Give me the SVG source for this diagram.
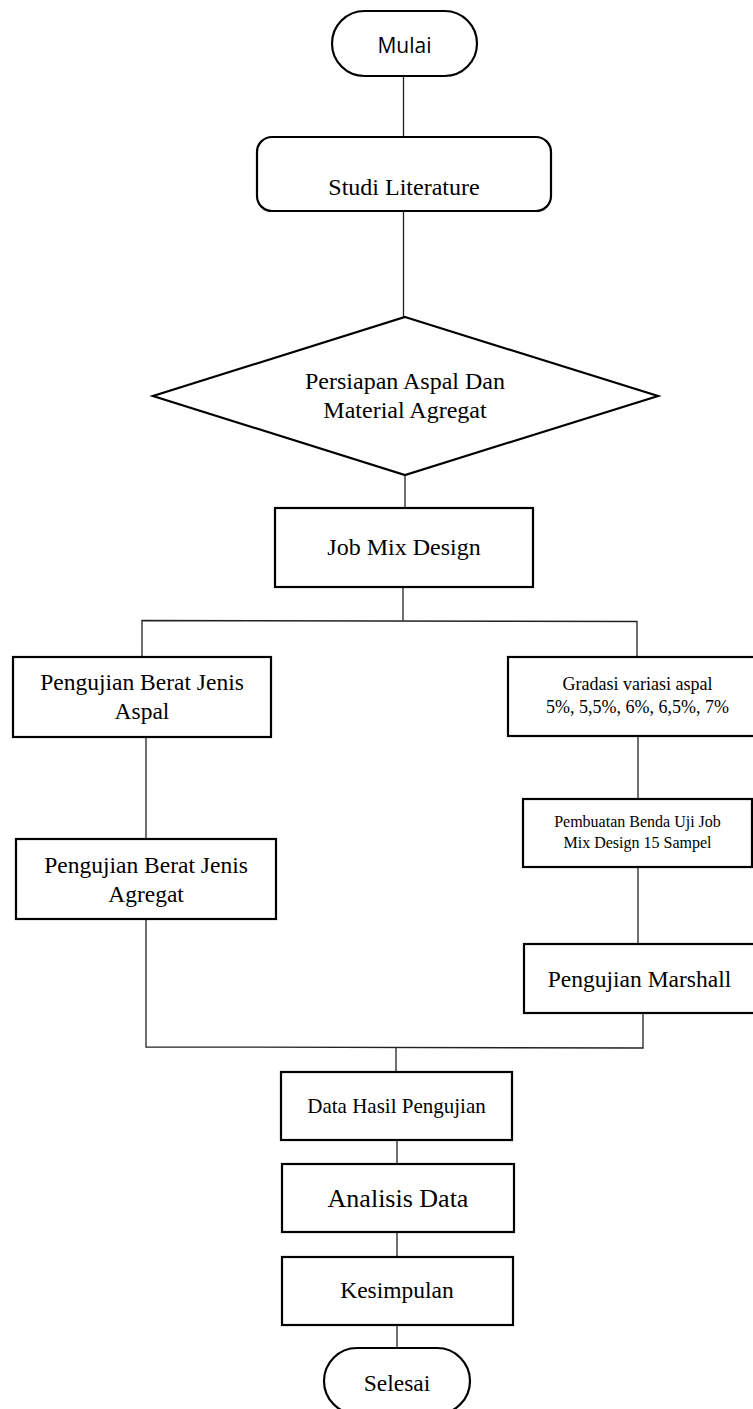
<svg xmlns="http://www.w3.org/2000/svg" width="753" height="1409" viewBox="0 0 753 1409">
<style>
.box{fill:#fff;stroke:#000;stroke-width:2.2}
.conn{fill:none;stroke:#222;stroke-width:1.3}
.t{font-family:"Liberation Serif","Times New Roman",serif;fill:#000;text-anchor:middle}
.s{font-family:"Open Sans","Liberation Sans",sans-serif;fill:#000;text-anchor:middle}
</style>
<rect width="753" height="1409" fill="#fff"/>
<g id="connectors">
<line class="conn" x1="403.5" y1="76" x2="403.5" y2="137"/>
<line class="conn" x1="403.5" y1="211" x2="403.5" y2="317"/>
<line class="conn" x1="405" y1="475" x2="405" y2="508"/>
<line class="conn" x1="403" y1="587" x2="403" y2="620.5"/>
<polyline class="conn" points="142,657 142,620.5 637,621.5 637,657"/>
<line class="conn" x1="146" y1="737" x2="146" y2="839"/>
<line class="conn" x1="638" y1="736" x2="638" y2="799"/>
<line class="conn" x1="638" y1="867" x2="638" y2="944"/>
<polyline class="conn" points="146,919 146,1047 643,1048 643,1013"/>
<line class="conn" x1="396" y1="1047.5" x2="396" y2="1072"/>
<line class="conn" x1="397" y1="1140" x2="397" y2="1164"/>
<line class="conn" x1="397" y1="1232" x2="397" y2="1257"/>
<line class="conn" x1="397" y1="1325" x2="397" y2="1348"/>
</g>
<g id="mulai">
<rect class="box" x="332" y="11" width="145" height="65" rx="32.5" ry="32.5"/>
<text class="s" x="404.5" y="53" font-size="21">Mulai</text>
</g>
<g id="studi">
<rect class="box" x="257" y="137" width="294" height="74" rx="15" ry="15"/>
<text class="t" x="404" y="195" font-size="24">Studi Literature</text>
</g>
<g id="persiapan">
<polygon class="box" points="405,317 658,396 405,475 153,396"/>
<text class="t" x="405" y="389" font-size="24">Persiapan Aspal Dan</text>
<text class="t" x="405" y="418" font-size="24">Material Agregat</text>
</g>
<g id="jobmix">
<rect class="box" x="275" y="508" width="258" height="79"/>
<text class="t" x="404" y="555" font-size="24">Job Mix Design</text>
</g>
<g id="bj-aspal">
<rect class="box" x="13" y="657" width="258" height="80"/>
<text class="t" x="142" y="690" font-size="23.5">Pengujian Berat Jenis</text>
<text class="t" x="142" y="719" font-size="23.5">Aspal</text>
</g>
<g id="gradasi">
<rect class="box" x="508" y="657" width="259" height="79"/>
<text class="t" x="637.5" y="690" font-size="18">Gradasi variasi aspal</text>
<text class="t" x="637.5" y="713" font-size="18">5%, 5,5%, 6%, 6,5%, 7%</text>
</g>
<g id="bj-agregat">
<rect class="box" x="16" y="839" width="260" height="80"/>
<text class="t" x="146" y="873" font-size="23.5">Pengujian Berat Jenis</text>
<text class="t" x="146" y="902" font-size="23.5">Agregat</text>
</g>
<g id="pembuatan">
<rect class="box" x="523" y="799" width="229" height="68"/>
<text class="t" x="637.5" y="827" font-size="16">Pembuatan Benda Uji Job</text>
<text class="t" x="637.5" y="848" font-size="16">Mix Design 15 Sampel</text>
</g>
<g id="marshall">
<rect class="box" x="524" y="944" width="232" height="69"/>
<text class="t" x="639.5" y="987" font-size="23.5">Pengujian Marshall</text>
</g>
<g id="data-hasil">
<rect class="box" x="281" y="1072" width="231" height="68"/>
<text class="t" x="396.5" y="1113" font-size="21">Data Hasil Pengujian</text>
</g>
<g id="analisis">
<rect class="box" x="282" y="1164" width="232" height="68"/>
<text class="t" x="398" y="1207" font-size="26">Analisis Data</text>
</g>
<g id="kesimpulan">
<rect class="box" x="282" y="1257" width="231" height="68"/>
<text class="t" x="397" y="1298" font-size="23.5">Kesimpulan</text>
</g>
<g id="selesai">
<rect class="box" x="324" y="1348" width="146" height="66" rx="33" ry="33"/>
<text class="t" x="397" y="1391" font-size="23.5">Selesai</text>
</g>
</svg>
